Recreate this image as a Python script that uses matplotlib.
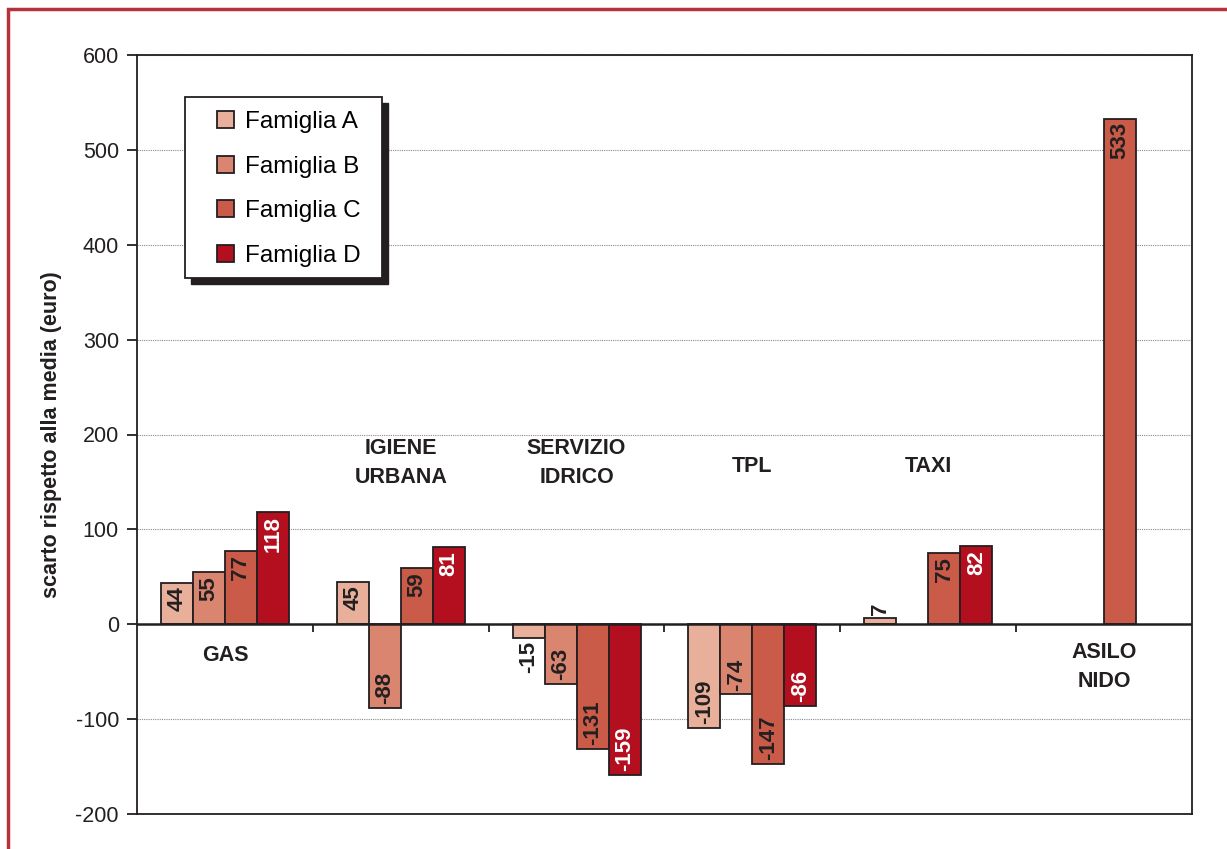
import numpy as np
import matplotlib.pyplot as plt
from matplotlib.patches import Rectangle

plt.rcParams['font.family'] = ['Liberation Sans', 'DejaVu Sans']
plt.rcParams['axes.unicode_minus'] = False

# DATI
categorie = ['GAS', 'IGIENE\nURBANA', 'SERVIZIO\nIDRICO', 'TPL', 'TAXI', 'ASILO\nNIDO']
famiglie = ['Famiglia A', 'Famiglia B', 'Famiglia C', 'Famiglia D']
fam_a = [44, 45, -15, -109, 7, np.nan]
fam_b = [55, -88, -63, -74, np.nan, np.nan]
fam_c = [77, 59, -131, -147, 75, 533]
fam_d = [118, 81, -159, -86, 82, np.nan]
# posizione verticale delle etichette di categoria (in euro)
pos_etichette = [-33, 170, 170, 166, 166, -45]

colori = ['#E8B09B', '#D98570', '#C95B48', '#B40F1E']
col_testo = ['#231F20', '#231F20', '#231F20', 'white']
serie = [fam_a, fam_b, fam_c, fam_d]

W, H = 1227, 849
fig = plt.figure(figsize=(W / 100, H / 100), dpi=100)
ax = fig.add_axes([137 / W, 1 - 814 / H, (1192 - 137) / W, (814 - 55) / H])
aw, ah = 1192 - 137, 814 - 55

# cornice rossa esterna
fig.patches.append(Rectangle((8 / W, -0.1), 1.2, 1 - 9 / H + 0.1,
                             transform=fig.transFigure, fill=False,
                             edgecolor='#B5333B', linewidth=2.5, zorder=0))

x = np.arange(len(categorie))
w = 0.182
for j, vals in enumerate(serie):
    xs = x + (j - 1.5) * w
    v = np.array(vals, dtype=float)
    ax.bar(xs, v, width=w, color=colori[j], edgecolor='#231F20',
           linewidth=1.3, label=famiglie[j], zorder=3)
    for xi, vi in zip(xs, v):
        if np.isnan(vi):
            continue
        lab = f'{vi:.0f}'
        if abs(vi) < 30:
            # etichetta fuori dalla barra
            y = vi + (3 if vi > 0 else -3)
            va = 'bottom' if vi > 0 else 'top'
            ax.text(xi, y, lab, rotation=90, ha='center', va=va,
                    fontsize=16, fontweight='bold', color='#231F20', zorder=4)
        else:
            y = vi - (4 if vi > 0 else -4)
            va = 'top' if vi > 0 else 'bottom'
            ax.text(xi, y, lab, rotation=90, ha='center', va=va,
                    fontsize=16, fontweight='bold', color=col_testo[j], zorder=4)

for xi, cat, yp in zip(x, categorie, pos_etichette):
    ax.text(xi, yp, cat, ha='center', va='center', fontsize=15.5,
            fontweight='bold', color='#231F20', linespacing=1.45, zorder=4)

ax.set_xlim(-0.5, len(categorie) - 0.5)
ax.set_ylim(-200, 600)
ax.set_yticks(np.arange(-200, 601, 100))
ax.set_xticks([])
ax.tick_params(axis='y', labelsize=15.5, length=7, width=1.3, colors='#231F20', pad=6)
ax.yaxis.grid(True, linestyle=(0, (1, 1)), color='#8a8a8a', linewidth=0.8, zorder=0)
ax.set_axisbelow(True)
for s in ax.spines.values():
    s.set_color('#231F20')
    s.set_linewidth(1.3)

# asse dello zero con tacche tra le categorie
ax.axhline(0, color='#231F20', linewidth=1.8, zorder=5)
ax.vlines(x[:-1] + 0.5, -8, 0, color='#231F20', linewidth=1.3, zorder=5)

ax.set_ylabel('scarto rispetto alla media (euro)', fontsize=15.5,
              fontweight='bold', color='#231F20', labelpad=10)

# riquadro della legenda con ombra
x0, x1, y0, y1 = 185 - 137, 382 - 137, 814 - 278, 814 - 97
ax.add_patch(Rectangle(((x0 + 6) / aw, (y0 - 6) / ah), (x1 - x0) / aw, (y1 - y0) / ah,
                       transform=ax.transAxes, color='#231F20', zorder=8, clip_on=False))
ax.add_patch(Rectangle((x0 / aw, y0 / ah), (x1 - x0) / aw, (y1 - y0) / ah,
                       transform=ax.transAxes, facecolor='white', edgecolor='#231F20',
                       linewidth=1.3, zorder=9, clip_on=False))

leg = ax.legend(loc='upper left', bbox_to_anchor=((217 - 137) / aw, (814 - 111) / ah),
                fontsize=17.5, frameon=False, handlelength=0.7,
                handleheight=0.7, handletextpad=0.45, labelspacing=0.93,
                borderpad=0, borderaxespad=0)
leg.set_zorder(10)

fig.savefig('out.png', dpi=100)
